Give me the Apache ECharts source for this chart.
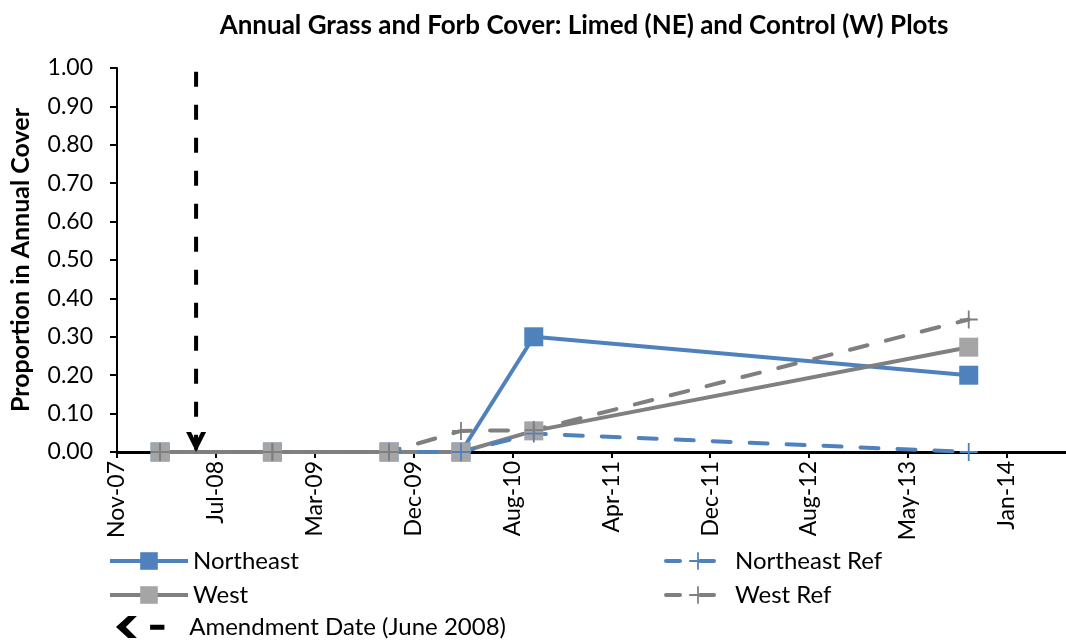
<!DOCTYPE html>
<html>
<head>
<meta charset="utf-8">
<script src="https://cdn.jsdelivr.net/npm/echarts@6/dist/echarts.min.js"></script>
<style>
  html, body { margin: 0; padding: 0; background: #fff; }
  #main { width: 1066px; height: 644px; }
</style>
</head>
<body>
<div id="main"></div>
<script>
// 数据
const baseDate = '2007-11-15'; // 横轴起点（Nov-07）
const tickLabels = ['Nov-07', 'Jul-08', 'Mar-09', 'Dec-09', 'Aug-10', 'Apr-11', 'Dec-11', 'Aug-12', 'May-13', 'Jan-14'];
const sampleDates = ['2008-03-03', '2008-12-12', '2009-10-03', '2010-04-03', '2010-10-04', '2013-10-08'];
const northeast = [0, 0, 0, 0, 0.30, 0.20];
const west = [0, 0, 0, 0, 0.055, 0.273];
const northeastRef = [0, 0, 0, 0, 0.048, 0.0];
const westRef = [0, 0, 0, 0.055, 0.057, 0.345];
const amendmentDate = '2008-06-02';
const amendmentSpan = [0.99, 0];

const FONT = 'Lato';
const BLUE = '#4F81BD';
const GRAY_LINE = '#808080';
const GRAY_MARK = '#A5A5A5';
const GRAY_REF = '#7F7F7F';
const PLUS = 'path://M9,0 L11,0 L11,9 L20,9 L20,11 L11,11 L11,20 L9,20 L9,11 L0,11 L0,9 L9,9 Z';
const CHEVRON_DOWN = 'path://M0,0 L5,0 L10,9 L15,0 L20,0 L10,18 Z';
const AMEND_ICON = 'path://M0,10 L11,0 L19,0 L9,10 L19,20 L11,20 Z M31,8 L44,8 L44,12.5 L31,12.5 Z';

// 日期 -> 距起点的天数
function dayOf(s) {
	const [y, m, d] = s.split('-').map(Number);
	const [by, bm, bd] = baseDate.split('-').map(Number);
	return (Date.UTC(y, m - 1, d) - Date.UTC(by, bm - 1, bd)) / 86400000;
}
function pairs(vals) {
	return vals.map((v, i) => [dayOf(sampleDates[i]), v]);
}

const legendText = { fontFamily: FONT, fontSize: 24, color: '#000' };

const myChart = echarts.init(document.getElementById('main'));
myChart.setOption({
	animation: false,
	textStyle: { fontFamily: FONT },
	title: {
		text: 'Annual Grass and Forb Cover: Limed (NE) and Control (W) Plots',
		left: 579,
		textAlign: 'center',
		top: 8,
		textStyle: { fontFamily: FONT, fontSize: 26, fontWeight: 'bold', color: '#000' },
	},
	grid: { left: 117, right: 0, top: 68, bottom: 192 },
	xAxis: {
		type: 'value',
		min: 0,
		max: 2400,
		interval: 250,
		axisLine: { lineStyle: { color: '#000', width: 3 } },
		axisTick: { length: 6, lineStyle: { color: '#000', width: 2 } },
		splitLine: { show: false },
		axisLabel: {
			rotate: 90,
			fontSize: 23,
			color: '#000',
			margin: 9,
			showMaxLabel: false,
			formatter: (v) => tickLabels[Math.round(v / 250)] || '',
		},
	},
	yAxis: {
		type: 'value',
		min: 0,
		max: 1,
		interval: 0.1,
		name: 'Proportion in Annual Cover',
		nameLocation: 'middle',
		nameGap: 84,
		nameTextStyle: { fontFamily: FONT, fontSize: 25, fontWeight: 'bold', color: '#000' },
		axisLine: { show: true, lineStyle: { color: '#000', width: 2 } },
		axisTick: { show: true, length: 7, lineStyle: { color: '#000', width: 2 } },
		splitLine: { show: false },
		axisLabel: { fontSize: 23, color: '#000', margin: 24, formatter: (v) => v.toFixed(2) },
	},
	legend: [
		{
			data: [
				{ name: 'Northeast', lineStyle: { width: 4 } },
				{ name: 'West', lineStyle: { width: 4 } },
			],
			orient: 'vertical',
			left: 103,
			top: 544,
			itemWidth: 78,
			itemHeight: 22,
			itemGap: 10,
			textStyle: legendText,
		},
		{
			data: [
				{ name: 'Northeast Ref', lineStyle: { width: 4, type: [14, 20], cap: 'round' } },
				{ name: 'West Ref', lineStyle: { width: 4, type: [14, 20], cap: 'round' } },
			],
			orient: 'vertical',
			left: 659,
			top: 544,
			itemWidth: 64,
			itemHeight: 22,
			itemGap: 10,
			textStyle: legendText,
		},
		{
			data: [{ name: 'Amendment Date (June 2008)', icon: AMEND_ICON }],
			left: 111,
			top: 610,
			itemWidth: 52,
			itemHeight: 22,
			textStyle: Object.assign({}, legendText, { padding: [0, 0, 0, 18] }),
		},
	],
	series: [
		{
			name: 'Northeast',
			type: 'line',
			data: pairs(northeast),
			symbol: 'rect',
			symbolSize: 19,
			itemStyle: { color: BLUE },
			lineStyle: { color: BLUE, width: 4 },
		},
		{
			name: 'West',
			type: 'line',
			data: pairs(west),
			symbol: 'rect',
			symbolSize: 19,
			itemStyle: { color: GRAY_MARK },
			lineStyle: { color: GRAY_LINE, width: 4 },
		},
		{
			name: 'Northeast Ref',
			type: 'line',
			data: pairs(northeastRef),
			symbol: PLUS,
			symbolSize: 18,
			itemStyle: { color: BLUE },
			lineStyle: { color: BLUE, width: 4, type: [18, 19], cap: 'round' },
		},
		{
			name: 'West Ref',
			type: 'line',
			data: pairs(westRef),
			symbol: PLUS,
			symbolSize: 18,
			itemStyle: { color: GRAY_REF },
			lineStyle: { color: GRAY_REF, width: 4, type: [18, 19], cap: 'round' },
		},
		{
			name: 'Amendment Date (June 2008)',
			type: 'line',
			data: [
				{ value: [dayOf(amendmentDate), amendmentSpan[0]], symbol: 'none' },
				{ value: [dayOf(amendmentDate), amendmentSpan[1]], symbol: CHEVRON_DOWN, symbolSize: [20, 20], symbolOffset: [0, -10] },
			],
			itemStyle: { color: '#000' },
			lineStyle: { color: '#000', width: 4, type: [15, 18] },
			z: 5,
		},
	],
});
</script>
</body>
</html>
